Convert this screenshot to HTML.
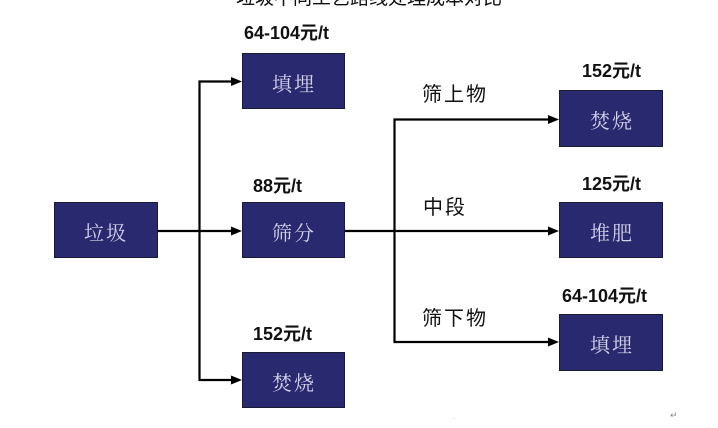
<!DOCTYPE html>
<html>
<head>
<meta charset="utf-8">
<style>
  html,body{margin:0;padding:0;background:#fff;}
  body{width:718px;height:428px;overflow:hidden;}
  svg{display:block;}
  .box{fill:#29296f;stroke:#1a1a33;stroke-width:1;}
  .bt{font-family:"Liberation Serif","Noto Serif CJK SC",serif;font-size:20px;fill:#d2d2ea;text-anchor:middle;letter-spacing:2px;}
  .pr{font-family:"Liberation Sans","Noto Sans CJK SC",sans-serif;font-size:18px;font-weight:bold;fill:#111;}
  .lb{font-family:"Liberation Sans","Noto Sans CJK SC",sans-serif;font-size:20px;fill:#111;letter-spacing:2px;}
  .ln{stroke:#000;stroke-width:2.2;fill:none;}
</style>
</head>
<body>
<svg width="718" height="428" viewBox="0 0 718 428" xmlns="http://www.w3.org/2000/svg">
  <!-- cut-off title -->
  <text x="369" y="4" font-family="'Liberation Sans','Noto Sans CJK SC',sans-serif" font-size="19" fill="#111" text-anchor="middle">垃圾不同工艺路线处理成本对比</text>

  <!-- connectors -->
  <line class="ln" x1="158" y1="231" x2="234" y2="231"/>
  <polyline class="ln" points="233,81.5 199.5,81.5 199.5,380 233,380"/>
  <line class="ln" x1="345" y1="231" x2="551" y2="231"/>
  <polyline class="ln" points="551,119.5 394.5,119.5 394.5,342 551,342"/>

  <!-- arrowheads -->
  <polygon points="231,77 242,81.5 231,86" fill="#000"/>
  <polygon points="231,226.5 242,231 231,235.5" fill="#000"/>
  <polygon points="231,375.5 242,380 231,384.5" fill="#000"/>
  <polygon points="548,115 559,119.5 548,124" fill="#000"/>
  <polygon points="548,226.5 559,231 548,235.5" fill="#000"/>
  <polygon points="548,337.5 559,342 548,346.5" fill="#000"/>

  <!-- boxes -->
  <rect class="box" x="54.5" y="202.5" width="103" height="55"/>
  <text class="bt" x="106" y="240">垃圾</text>

  <rect class="box" x="242.5" y="53.5" width="102" height="55"/>
  <text class="bt" x="294" y="91">填埋</text>

  <rect class="box" x="242.5" y="202.5" width="102" height="55"/>
  <text class="bt" x="294" y="240">筛分</text>

  <rect class="box" x="242.5" y="352.5" width="102" height="55"/>
  <text class="bt" x="294" y="390">焚烧</text>

  <rect class="box" x="559.5" y="90.5" width="103" height="56"/>
  <text class="bt" x="612" y="128">焚烧</text>

  <rect class="box" x="559.5" y="202.5" width="103" height="55"/>
  <text class="bt" x="612" y="240">堆肥</text>

  <rect class="box" x="559.5" y="314.5" width="103" height="56"/>
  <text class="bt" x="612" y="352">填埋</text>

  <!-- price labels -->
  <text class="pr" x="244" y="39">64-104元/t</text>
  <text class="pr" x="253" y="192">88元/t</text>
  <text class="pr" x="253" y="340">152元/t</text>
  <text class="pr" x="582" y="77">152元/t</text>
  <text class="pr" x="582" y="190">125元/t</text>
  <text class="pr" x="562" y="302">64-104元/t</text>

  <!-- branch labels -->
  <text class="lb" x="422" y="101">筛上物</text>
  <text class="lb" x="423" y="214">中段</text>
  <text class="lb" x="422" y="325">筛下物</text>

  <!-- small marks -->
  <text x="453" y="419" font-family="'Liberation Sans',sans-serif" font-size="6" fill="#999">.</text>
  <text x="670" y="418" font-family="'DejaVu Sans',sans-serif" font-size="9" fill="#888">↵</text>
</svg>
</body>
</html>
